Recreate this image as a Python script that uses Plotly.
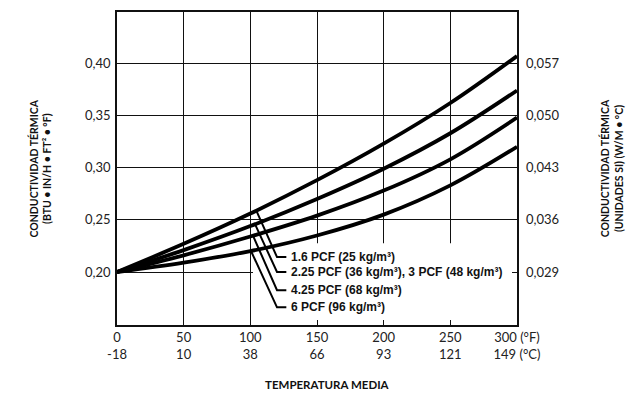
import numpy as np
import plotly.graph_objects as go

# ---- data ----
temp_f = [0, 50, 100, 150, 200, 250, 300]
k_16 = [0.200, 0.227, 0.256, 0.288, 0.323, 0.362, 0.407]
k_225 = [0.200, 0.221, 0.244, 0.270, 0.299, 0.333, 0.374]
k_425 = [0.200, 0.216, 0.234, 0.254, 0.278, 0.308, 0.348]
k_6 = [0.200, 0.209, 0.220, 0.235, 0.255, 0.283, 0.320]

series_labels = ["1.6 PCF (25 kg/m³)", "2.25 PCF (36 kg/m³), 3 PCF (48 kg/m³)",
                 "4.25 PCF (68 kg/m³)", "6 PCF (96 kg/m³)"]

x_tickvals = [0, 50, 100, 150, 200, 250, 300]
x_ticktext_f = ["0", "50", "100", "150", "200", "250", "300 (°F)"]
x_ticktext_c = ["-18", "10", "38", "66", "93", "121", "149 (°C)"]

y_tickvals = [0.20, 0.25, 0.30, 0.35, 0.40]
y_ticktext_left = ["0,20", "0,25", "0,30", "0,35", "0,40"]
y_ticktext_right = ["0,029", "0,036", "0,043", "0,050", "0,057"]

# label placement (layout settings)
leader_start_x = [104.5, 103.5, 102.0, 100.5]
leader_elbow_x = 120.0
leader_end_x = 127.0
label_x = 129.0
label_y = [0.2143, 0.200, 0.1826, 0.1661]

TICK_FONT = dict(family="Lato, 'Open Sans', sans-serif", size=13, color="#222")
TITLE_FONT = dict(family="Lato, 'Open Sans', sans-serif", size=11.5, color="#111")
SIDE_TITLE_FONT = dict(family="Lato, 'Open Sans', sans-serif", size=10.5, color="#111")
LABEL_FONT = dict(family="'Liberation Sans', Arial, sans-serif", size=12, color="#111")

fig = go.Figure()

all_series = [k_16, k_225, k_425, k_6]
for vals in all_series:
    fig.add_trace(go.Scatter(x=temp_f, y=vals, mode="lines",
                             line=dict(color="black", width=3.8, shape="spline", smoothing=1.0),
                             showlegend=False, hoverinfo="skip"))

# leaders from curves to labels
for i, vals in enumerate(all_series):
    sx = leader_start_x[i]
    sy = float(np.interp(sx, temp_f, vals))
    fig.add_trace(go.Scatter(x=[sx, leader_elbow_x, leader_end_x],
                             y=[sy, label_y[i], label_y[i]], mode="lines",
                             line=dict(color="black", width=2),
                             showlegend=False, hoverinfo="skip"))
    fig.add_annotation(x=label_x, y=label_y[i], xref="x", yref="y", text="<b>%s</b>" % series_labels[i],
                       showarrow=False, xanchor="left", yanchor="middle", font=LABEL_FONT)

# dummy trace for right axis
fig.add_trace(go.Scatter(x=[0], y=[0.2], yaxis="y2", mode="markers", marker=dict(opacity=0),
                         showlegend=False, hoverinfo="skip"))

# white panel hiding grid behind labels
fig.add_shape(type="rect", xref="x", yref="y", x0=102, x1=296.3, y0=0.1492, y1=0.2275,
              fillcolor="white", line=dict(width=0), layer="between")

xt = [f + "<br>" + c for f, c in zip(x_ticktext_f, x_ticktext_c)]

fig.update_layout(
    width=638, height=398,
    margin=dict(l=117, r=121, t=10, b=73),
    paper_bgcolor="white", plot_bgcolor="white",
    xaxis=dict(range=[0, 300], tickvals=x_tickvals, ticktext=xt, tickfont=TICK_FONT,
               showgrid=True, gridcolor="#111", gridwidth=1.4,
               showline=True, linecolor="#111", linewidth=1.6, mirror=True,
               ticks="inside", ticklen=5, tickcolor="#111", tickwidth=1.4,
               zeroline=False, fixedrange=True),
    yaxis=dict(range=[0.1492, 0.4492], tickvals=y_tickvals, ticktext=y_ticktext_left,
               tickfont=TICK_FONT, showgrid=True, gridcolor="#111", gridwidth=1.4,
               showline=True, linecolor="#111", linewidth=1.6, mirror=True,
               ticks="", zeroline=False, ticklabelstandoff=2, fixedrange=True),
    yaxis2=dict(range=[0.1492, 0.4492], tickvals=y_tickvals, ticktext=y_ticktext_right,
                tickfont=TICK_FONT, overlaying="y", side="right", showgrid=False,
                ticks="inside", ticklen=5, tickcolor="#111", tickwidth=1.4,
                zeroline=False, ticklabelstandoff=8, fixedrange=True),
)

fig.add_annotation(xref="paper", yref="paper", x=-0.1925, y=0.5, xanchor="center", yanchor="middle",
                   text="<b>CONDUCTIVIDAD TÉRMICA<br>(BTU • IN/H • FT² • °F)</b>", textangle=-90,
                   showarrow=False, font=SIDE_TITLE_FONT)
fig.add_annotation(xref="paper", yref="paper", x=1.237, y=0.5, xanchor="center", yanchor="middle",
                   text="<b>CONDUCTIVIDAD TÉRMICA<br>(UNIDADES SI) (W/M • °C)</b>", textangle=-90,
                   showarrow=False, font=SIDE_TITLE_FONT)
fig.add_annotation(xref="paper", yref="paper", x=0.527, y=-0.19, xanchor="center", yanchor="middle",
                   text="<b>TEMPERATURA MEDIA</b>",
                   showarrow=False, font=TITLE_FONT)

fig.write_html("out.html", config={"displayModeBar": False},
               post_script="document.body.style.margin='0';document.body.style.padding='0';")
